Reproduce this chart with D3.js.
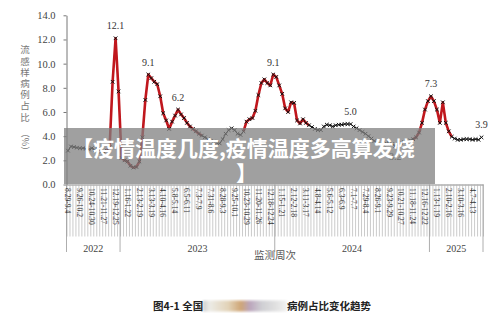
<!DOCTYPE html>
<html><head><meta charset="utf-8">
<script src="https://cdn.jsdelivr.net/npm/d3@7"></script>
<style>body{margin:0;background:#fff}svg{display:block}</style>
</head><body>
<svg id="chart" width="500" height="318"></svg>
<script>
// weekly share of ILI cases (%), 2022-08-29 .. 2025-04-28
const values = [
  2.8, 3.15, 3.1, 3.05, 3.0, 3.0, 2.95, 2.9, 3.0, 2.85, 2.95, 2.7, 2.6, 2.8, 3.1, 8.5, 12.1, 7.7,
  2.2, 2.0, 1.9, 1.55, 1.4, 1.45, 1.9, 3.9, 7.0, 9.1, 8.8, 8.5, 8.3, 7.3, 5.9, 5.3, 4.6, 5.2,
  5.7, 6.2, 5.8, 5.5, 5.1, 4.8, 4.6, 4.4, 4.2, 4.05, 3.9, 3.75, 3.6, 3.55, 3.45, 3.4, 3.75, 4.2,
  4.5, 4.65, 4.5, 4.2, 4.1, 4.4, 5.2, 5.4, 5.5, 6.1, 7.4, 8.4, 8.7, 8.4, 8.2, 9.1,
  8.9, 8.2, 7.5, 6.3, 6.0, 6.8, 6.75, 5.3, 5.05, 5.4, 5.1, 4.9, 4.75, 4.6, 4.5, 4.5, 4.8, 4.95,
  4.9, 4.8, 4.9, 4.95, 4.95, 5.0, 5.0, 5.0, 4.8, 4.65, 4.5, 4.35, 4.2, 4.0, 3.8, 3.6, 3.45, 3.35,
  3.3, 3.4, 3.45, 3.35, 3.2, 3.3, 3.45, 3.5, 3.55, 3.65, 3.75, 3.9, 4.3, 5.1, 6.2, 6.9,
  7.3, 6.9, 6.2, 5.1, 6.8, 5.1, 4.4, 3.95, 3.8, 3.7, 3.7, 3.75, 3.75, 3.75, 3.7, 3.75, 3.7, 3.9
]

// one label every 4 weeks
const weekLabels = [
  "8.29-9.4", "9.26-10.2", "10.24-10.30", "11.21-11.27", "12.19-12.25",
  "1.16-1.22", "2.13-2.19", "3.13-3.19", "4.10-4.16", "5.8-5.14", "6.5-6.11", "7.3-7.9",
  "7.31-8.6", "8.28-9.3", "9.25-10.1", "10.23-10.29", "11.20-11.26", "12.18-12.24",
  "1.15-1.21", "2.12-2.18", "3.11-3.17", "4.8-4.14", "5.6-5.12", "6.3-6.9", "7.1-7.7",
  "7.29-8.4", "8.26-9.1", "9.23-9.29", "10.21-10.27", "11.18-11.24", "12.16-12.22",
  "1.13-1.19", "2.10-2.16", "3.10-3.16", "4.7-4.13"
]
const labelStep = 4

const years = ["2022", "2023", "2024", "2025"]
const yearStarts = [0, 18, 70, 122]

// epidemic periods drawn in red
const redRanges = [[13, 45], [59, 81], [116, 129]]

// annotated points [index, text, below?]
const notes = [[16, "12.1"], [27, "9.1"], [37, "6.2"], [69, "9.1"], [95, "5.0"], [110, "3.2", true], [122, "7.3"], [139, "3.9"]]

const yTicks = [0, 2, 4, 6, 8, 10, 12, 14]
const yTitle = "流感样病例占比"
const bannerLines = ["【疫情温度几度,疫情温度多高算发烧", "】"]

const svg = d3.select("#chart")
const n = values.length
const x = d3.scaleLinear().domain([-0.5, n - 0.5]).range([66.5, 483])
const y = d3.scaleLinear().domain([0, 14]).range([184.5, 15.3])
const serif = "'Liberation Serif','Times New Roman',serif"
const cjk = "'Noto Sans CJK SC','Noto Sans',sans-serif"

// y axis
const gy = svg.append("g")
	.attr("transform", "translate(66.5,0)")
	.call(d3.axisLeft(y).tickValues(yTicks).tickFormat(d3.format(".1f")).tickSize(3).tickSizeOuter(0).tickPadding(8))
gy.select(".domain").attr("stroke", "#777")
gy.selectAll(".tick line").attr("stroke", "#777")
gy.selectAll(".tick text").attr("font-family", serif).attr("font-size", 10.5).attr("fill", "#444")

// week ticks below the x axis
const gx = svg.append("g")
	.attr("transform", "translate(0,184.5)")
	.call(d3.axisBottom(x).tickValues(d3.range(n + 1).map(i => i - 0.5)).tickSize(52).tickSizeOuter(0).tickFormat(""))
gx.select(".domain").attr("stroke", "#888")
gx.selectAll(".tick line").attr("stroke", "#b4b4b4").attr("stroke-width", 0.7)

// year separators
const seps = yearStarts.concat([n]).map(i => i - 0.5)
svg.append("g").selectAll("line").data(seps).join("line")
	.attr("x1", d => x(d)).attr("x2", d => x(d))
	.attr("y1", 184.5).attr("y2", 252)
	.attr("stroke", "#999").attr("stroke-width", 0.8)

// week labels (rotated)
svg.append("g").selectAll("text").data(weekLabels).join("text")
	.attr("transform", (d, k) => `translate(${x(k * labelStep) - 2.7},188) rotate(90)`)
	.attr("font-family", serif).attr("font-size", 7.6).attr("fill", "#333")
	.text(d => d)

// year labels
svg.append("g").selectAll("text").data(years).join("text")
	.attr("x", (d, k) => (x(yearStarts[k] - 0.5) + x((k < years.length - 1 ? yearStarts[k + 1] : n) - 0.5)) / 2)
	.attr("y", 251.5)
	.attr("text-anchor", "middle")
	.attr("font-family", serif).attr("font-size", 10).attr("fill", "#444")
	.text(d => d)

svg.append("text")
	.attr("x", 275).attr("y", 259)
	.attr("text-anchor", "middle")
	.attr("font-family", cjk).attr("font-size", 10.5).attr("fill", "#555")
	.text("监测周次")

// y title, written vertically
svg.append("text")
	.attr("x", 25).attr("y", 45)
	.style("writing-mode", "vertical-rl").style("text-orientation", "upright")
	.attr("letter-spacing", 1.7)
	.attr("font-family", cjk).attr("font-size", 9.5).attr("fill", "#777")
	.text(yTitle)
svg.append("text")
	.attr("transform", "translate(25,142) rotate(90)")
	.attr("text-anchor", "middle").attr("dominant-baseline", "central")
	.attr("font-family", cjk).attr("font-size", 9).attr("fill", "#777")
	.text("（%）")

// series
const line = d3.line().x((d, i) => x(i)).y(d => y(d))
svg.append("path")
	.attr("d", line(values))
	.attr("fill", "none").attr("stroke", "#111").attr("stroke-width", 1)

const lineR = d3.line().x(d => x(d[0])).y(d => y(d[1]))
svg.append("g").selectAll("path").data(redRanges).join("path")
	.attr("d", r => lineR(d3.range(r[0], r[1] + 1).map(i => [i, values[i]])))
	.attr("fill", "none").attr("stroke", "#c0171d").attr("stroke-width", 2.6)
	.attr("stroke-linejoin", "round")

const s = 1.8
svg.append("g").selectAll("path").data(values).join("path")
	.attr("d", (d, i) => `M${x(i) - s},${y(d) - s}L${x(i) + s},${y(d) + s}M${x(i) - s},${y(d) + s}L${x(i) + s},${y(d) - s}`)
	.attr("stroke", "#111").attr("stroke-width", 1)

// value notes
svg.append("g").selectAll("text").data(notes).join("text")
	.attr("x", d => x(d[0]))
	.attr("y", d => d[2] ? y(values[d[0]]) + 14 : y(values[d[0]]) - 9)
	.attr("text-anchor", "middle")
	.attr("font-family", serif).attr("font-size", 10).attr("fill", "#333")
	.text(d => d[1])

// grey banner over the chart
svg.append("rect")
	.attr("x", 64).attr("y", 128).attr("width", 371).attr("height", 56)
	.attr("fill", "#808080").attr("fill-opacity", 0.75)
svg.append("text")
	.attr("font-family", cjk).attr("font-weight", "bold").attr("font-size", 21).attr("fill", "#fff")
	.selectAll("tspan").data(bannerLines).join("tspan")
	.attr("x", (d, k) => k ? 236 : 72)
	.attr("y", (d, k) => k ? 181 : 156)
	.text(d => d)

// caption with a blurred patch in the middle
const defs = svg.append("defs")
const grad = defs.append("linearGradient").attr("id", "smear")
const stops = [[0, "#cfcfcf"], [0.08, "#ecebe6"], [0.3, "#e2d3b8"], [0.45, "#cfa677"], [0.56, "#bba6bd"], [0.7, "#cfcfd3"], [0.88, "#e2e2e2"], [1, "#f2f2f2"]]
grad.selectAll("stop").data(stops).join("stop")
	.attr("offset", d => d[0]).attr("stop-color", d => d[1])
defs.append("filter").attr("id", "blur").append("feGaussianBlur").attr("stdDeviation", 1.2)
svg.append("rect")
	.attr("x", 203).attr("y", 300.5).attr("width", 84).attr("height", 11)
	.attr("fill", "url(#smear)").attr("filter", "url(#blur)")

svg.append("text")
	.attr("x", 153).attr("y", 310)
	.attr("font-family", cjk).attr("font-weight", "bold").attr("font-size", 10.5).attr("fill", "#222")
	.text("图4-1 全国")
svg.append("text")
	.attr("x", 287).attr("y", 310)
	.attr("font-family", cjk).attr("font-weight", "bold").attr("font-size", 10.5).attr("fill", "#222")
	.text("病例占比变化趋势")
</script>
</body></html>
